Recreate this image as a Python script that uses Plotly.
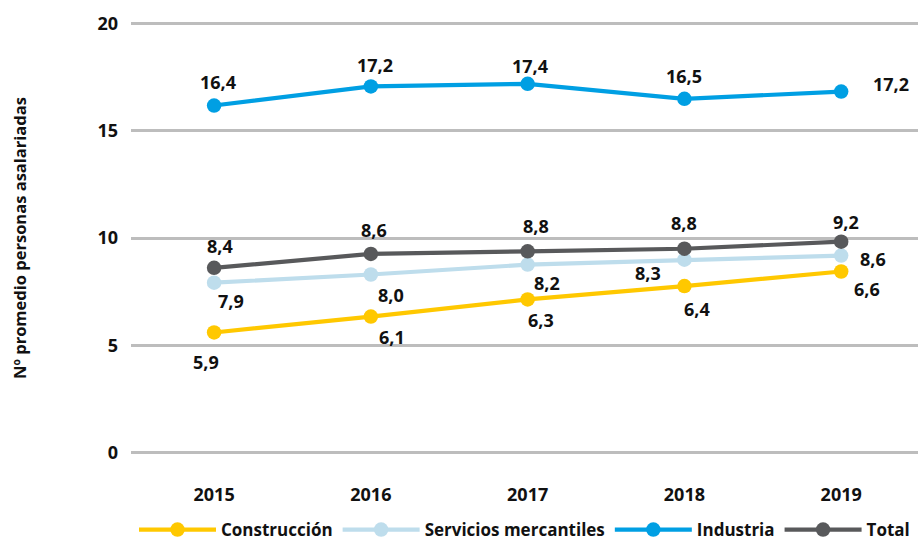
import plotly.graph_objects as go

years = ["2015", "2016", "2017", "2018", "2019"]

construccion = [5.60, 6.34, 7.14, 7.76, 8.44]
servicios = [7.92, 8.30, 8.76, 8.99, 9.18]
industria = [16.17, 17.06, 17.18, 16.48, 16.82]
total = [8.61, 9.26, 9.38, 9.50, 9.83]

construccion_labels = ["5,9", "6,1", "6,3", "6,4", "6,6"]
servicios_labels = ["7,9", "8,0", "8,2", "8,3", "8,6"]
industria_labels = ["16,4", "17,2", "17,4", "16,5", "17,2"]
total_labels = ["8,4", "8,6", "8,8", "8,8", "9,2"]

series_names = ["Construcción", "Servicios mercantiles", "Industria", "Total"]
y_ticks = [0, 5, 10, 15, 20]

colors = ["#FFC800", "#BEDDEC", "#009FE3", "#58595B"]
FONT = "Open Sans"

# label offsets (px) relative to each point: (dx, dy) with dy positive = up
offsets = {
    0: [(-8, -30), (21, -20), (13, -21), (13, -23), (26, -17)],
    1: [(17, -18), (20, -20), (19, -18), (-36, -13), (32, -3)],
    2: [(4, 24), (4, 21), (2, 18), (0, 23), (50, 8)],
    3: [(6, 22), (3, 24), (8, 25), (0, 26), (5, 20)],
}

all_values = [construccion, servicios, industria, total]
all_labels = [construccion_labels, servicios_labels, industria_labels, total_labels]

fig = go.Figure()
for i, (name, vals) in enumerate(zip(series_names, all_values)):
    fig.add_trace(go.Scatter(
        x=years, y=vals, name=name, mode="lines+markers",
        line=dict(color=colors[i], width=4.2),
        marker=dict(color=colors[i], size=14.5),
        hoverinfo="skip",
    ))

annotations = []
for i, (vals, labs) in enumerate(zip(all_values, all_labels)):
    for j, (yr, v, lab) in enumerate(zip(years, vals, labs)):
        dx, dy = offsets[i][j]
        annotations.append(dict(
            x=j, y=v, xref="x", yref="y", text="<b>" + lab + "</b>",
            showarrow=False, xshift=dx, yshift=dy,
            font=dict(family=FONT, size=18, color="#111111"),
        ))

fig.update_layout(
    width=918, height=544,
    margin=dict(l=131, r=0, t=22, b=90, autoexpand=False),
    paper_bgcolor="white", plot_bgcolor="white",
    showlegend=True,
    annotations=annotations,
    legend=dict(
        orientation="h", x=0.5, xanchor="center", y=-0.176, yanchor="middle",
        font=dict(family=FONT, size=17, color="#111111", weight="bold"),
        itemwidth=77, tracegroupgap=0,
    ),
    font=dict(family=FONT, color="#111111"),
)

fig.update_xaxes(
    type="category", range=[-0.53, 4.49],
    showgrid=False, zeroline=False, showline=False,
    tickfont=dict(family=FONT, size=18, color="#111111", weight="bold"),
    ticklabelstandoff=28,
)
fig.update_yaxes(
    range=[-0.06, 20.06], tickvals=y_ticks, ticktext=[str(t) for t in y_ticks],
    showgrid=True, gridcolor="#BDBDBD", gridwidth=2.5,
    zeroline=True, zerolinecolor="#BDBDBD", zerolinewidth=2.5, showline=False,
    tickfont=dict(family=FONT, size=18, color="#111111", weight="bold"),
    ticklabelstandoff=12,
    title=dict(text="Nº promedio personas asalariadas",
               font=dict(family=FONT, size=16.5, color="#111111", weight="bold"),
               standoff=66),
)

fig.write_html(
    "out.html",
    config={"displayModeBar": False},
    post_script="document.body.style.margin='0';document.body.style.padding='0';",
)
